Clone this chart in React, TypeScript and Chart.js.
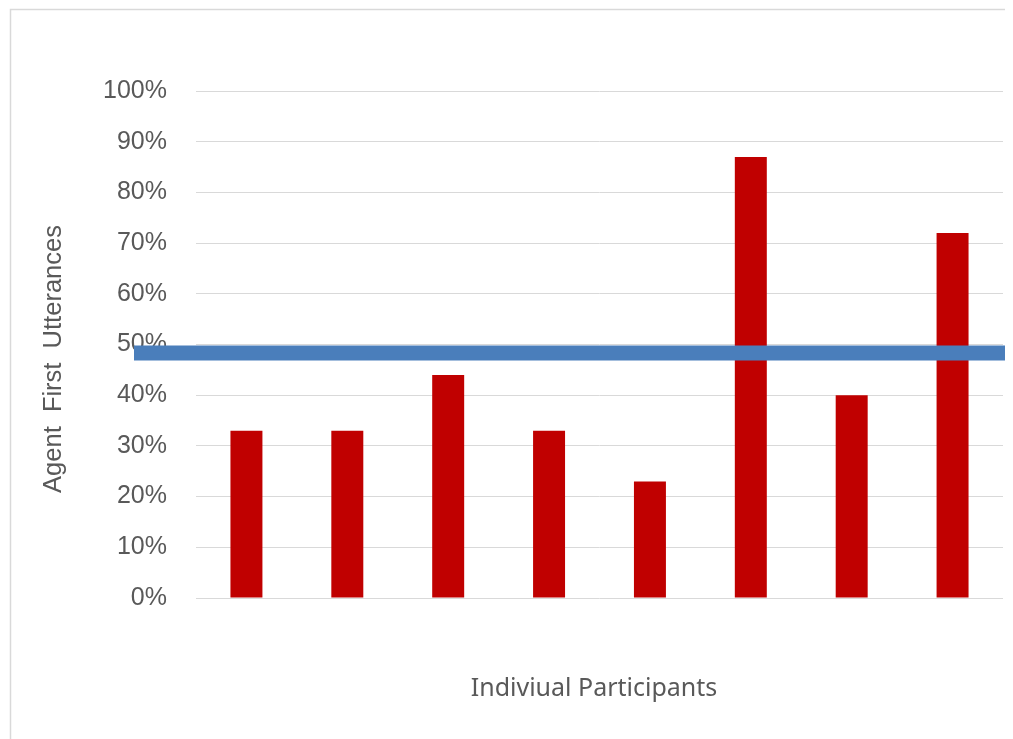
import React, { useEffect, useRef } from "react";
import { Chart, registerables } from "chart.js";

Chart.register(...registerables);

const participants = ["P1", "P2", "P3", "P4", "P5", "P6", "P7", "P8"];
const agentFirstPct = [33, 33, 44, 33, 23, 87, 40, 72];
const yTicks = [0, 10, 20, 30, 40, 50, 60, 70, 80, 90, 100];
const referenceLevel = [48.3];
const xTitle = "Indiviual Participants";
const yTitle = "Agent  First  Utterances";

const W = 1005;
const H = 731;

const framePlugin = {
  id: "frame",
  beforeDraw(chart: any) {
    const { ctx } = chart;
    ctx.save();
    ctx.fillStyle = "#ffffff";
    ctx.fillRect(0, 0, chart.width, chart.height);
    ctx.strokeStyle = "#d9d9d9";
    ctx.lineWidth = 1.5;
    ctx.beginPath();
    ctx.moveTo(2.5, chart.height);
    ctx.lineTo(2.5, 1.5);
    ctx.lineTo(chart.width, 1.5);
    ctx.stroke();
    ctx.restore();
  },
};

const titlesPlugin = {
  id: "titles",
  afterDraw(chart: any) {
    const { ctx, chartArea } = chart;
    ctx.save();
    ctx.fillStyle = "#595959";
    ctx.textAlign = "center";
    ctx.textBaseline = "middle";
    // x-axis title
    ctx.font = "25px 'Noto Sans'";
    ctx.fillText(xTitle, (chartArea.left + chartArea.right) / 2 - 5.5, chartArea.bottom + 91);
    // y-axis title
    ctx.font = "25.5px 'Liberation Sans'";
    ctx.translate(chartArea.left - 142, (chartArea.top + chartArea.bottom) / 2 + 14.5);
    ctx.rotate(-Math.PI / 2);
    ctx.fillText(yTitle, 0, 0);
    ctx.restore();
  },
};

const refLinePlugin = {
  id: "refLine",
  afterDatasetsDraw(chart: any) {
    const { ctx, chartArea } = chart;
    const y = chart.scales.y.getPixelForValue(referenceLevel[0]);
    ctx.save();
    ctx.strokeStyle = "#4A7EBB";
    ctx.lineWidth = 15;
    ctx.beginPath();
    ctx.moveTo(chartArea.left - 62, y);
    ctx.lineTo(chart.width, y);
    ctx.stroke();
    ctx.restore();
  },
};

export default function App() {
  const ref = useRef<HTMLCanvasElement>(null);
  useEffect(() => {
    if (!ref.current) return;
    const parent = ref.current.parentElement;
    if (parent) parent.style.width = W + "px";
    const chart = new Chart(ref.current, {
      type: "bar",
      data: {
        labels: participants,
        datasets: [
          {
            data: agentFirstPct,
            backgroundColor: "#C00000",
            borderWidth: 0,
            barPercentage: 0.317,
            categoryPercentage: 1,
          },
        ],
      },
      options: {
        responsive: false,
        animation: false,
        devicePixelRatio: 1,
        layout: { padding: { top: 83, right: 10, left: 0, bottom: 0 } },
        plugins: {
          legend: { display: false },
          tooltip: { enabled: false },
        },
        scales: {
          x: {
            type: "category",
            ticks: { display: false },
            grid: { display: false },
            border: { display: false },
            title: { display: false, text: xTitle },
            afterFit(scale: any) {
              scale.height = 141;
            },
          },
          y: {
            min: 0,
            max: 100,
            afterBuildTicks(scale: any) {
              scale.ticks = yTicks.map((v) => ({ value: v }));
            },
            ticks: {
              callback: (v: any) => v + "%",
              color: "#595959",
              font: { family: "'Liberation Sans'", size: 25 },
              padding: 29,
            },
            grid: { color: "#d9d9d9", lineWidth: 1, drawTicks: false },
            border: { display: false },
            title: { display: false, text: yTitle },
            afterFit(scale: any) {
              scale.width = 188;
            },
          },
        },
      },
      plugins: [framePlugin, refLinePlugin, titlesPlugin],
    });
    return () => chart.destroy();
  }, []);
  return (
    <canvas
      ref={ref}
      width={W}
      height={H}
      style={{ display: "block", width: W, height: H }}
    />
  );
}
